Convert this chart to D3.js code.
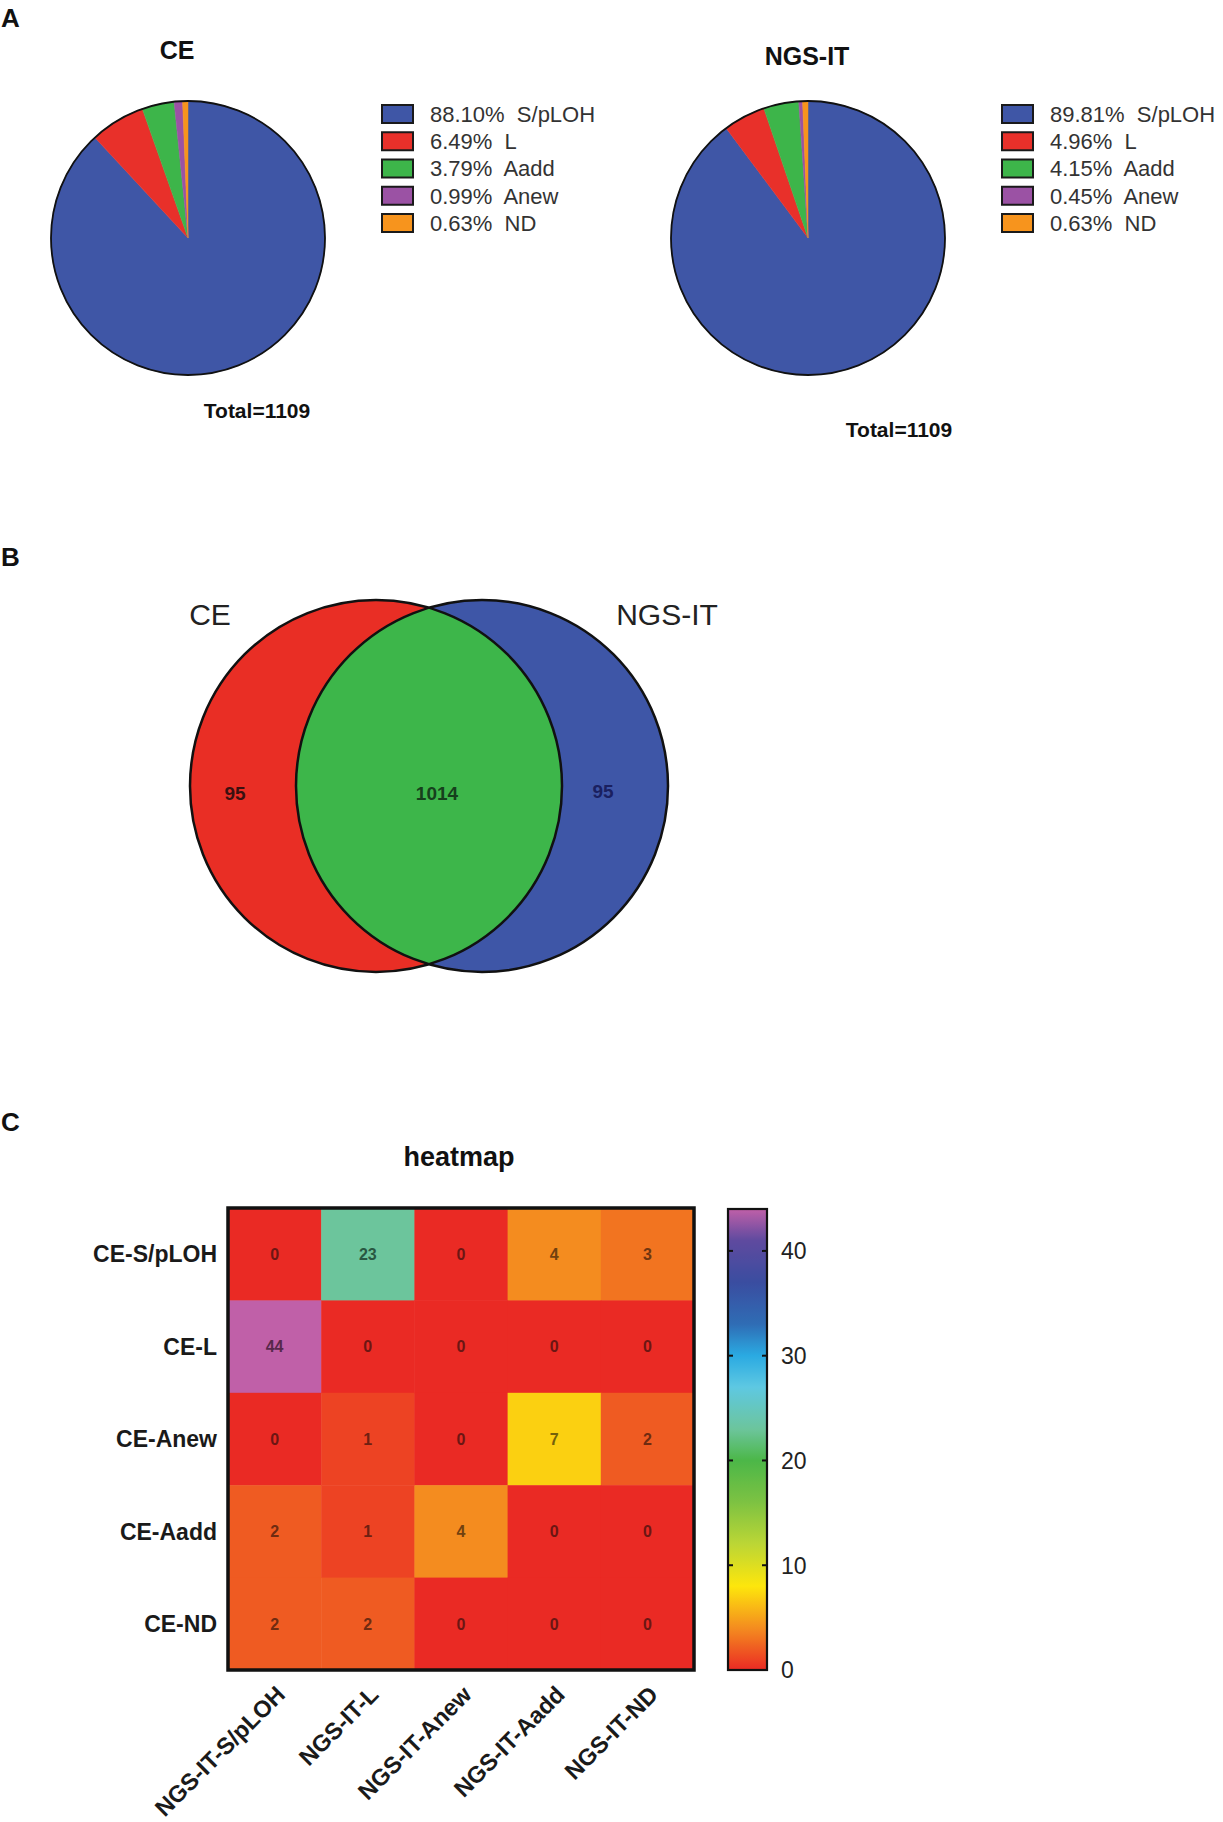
<!DOCTYPE html>
<html>
<head>
<meta charset="utf-8">
<script src="https://cdn.jsdelivr.net/npm/d3@7"></script>
<style>
  html, body { margin: 0; padding: 0; background: #fff; }
  svg { display: block; font-family: "Liberation Sans", Arial, Helvetica, sans-serif; }
</style>
</head>
<body>
<svg id="chart" width="1223" height="1822"></svg>
<script>
// ---------------- DATA ----------------
const pieCategories = ["S/pLOH", "L", "Aadd", "Anew", "ND"];
const cePercents = [88.10, 6.49, 3.79, 0.99, 0.63];
const ngsPercents = [89.81, 4.96, 4.15, 0.45, 0.63];
const pieTitles = ["CE", "NGS-IT"];
const pieTotals = [1109, 1109];

const vennSets = ["CE", "NGS-IT"];
const vennSetSizes = [1109, 1109];
const vennCounts = [95, 1014, 95]; // CE only, both, NGS-IT only

const heatRows = ["CE-S/pLOH", "CE-L", "CE-Anew", "CE-Aadd", "CE-ND"];
const heatCols = ["NGS-IT-S/pLOH", "NGS-IT-L", "NGS-IT-Anew", "NGS-IT-Aadd", "NGS-IT-ND"];
const heatValues = [
  [0, 23, 0, 4, 3],
  [44, 0, 0, 0, 0],
  [0, 1, 0, 7, 2],
  [2, 1, 4, 0, 0],
  [2, 2, 0, 0, 0]
];
const colorTicks = [0, 10, 20, 30, 40];
const colorMax = 44;

// ---------------- STYLE ----------------
const pieColors = ["#3f56a6", "#e8302a", "#3db54a", "#9b52a4", "#f7941d"];
const vennColors = { left: "#e92e25", right: "#3e56a7", both: "#3db64a" };
const rampStops = [0, 4, 8, 12, 16, 20, 23, 27, 30, 33, 37, 41, 44];
const rampColors = ["#ea2a24", "#f48c1f", "#fde60c", "#bcd635", "#7dc242", "#4cb748", "#6cc59c",
                    "#5ec8e2", "#2aaae2", "#2f6db5", "#3a4da0", "#5f4a9f", "#c060a8"];

const svg = d3.select("#chart");

// Panel letters
[["A", 27], ["B", 566], ["C", 1131]].forEach(([t, y]) => {
  svg.append("text").attr("x", 1).attr("y", y).attr("font-size", 26)
    .attr("font-weight", "bold").attr("fill", "#111").text(t);
});

// ---------------- PANEL A: pies ----------------
const pieGen = d3.pie().sort(null).value(d => d);
const R = 137;
const arcGen = d3.arc().innerRadius(0).outerRadius(R);

const pieLayouts = [
  { data: cePercents, cx: 188, cy: 238, titleX: 177, titleY: 59, legX: 382, totX: 257, totY: 418 },
  { data: ngsPercents, cx: 808, cy: 238, titleX: 807, titleY: 65, legX: 1002, totX: 899, totY: 437 }
];

pieLayouts.forEach((p, pi) => {
  const g = svg.append("g").attr("transform", `translate(${p.cx},${p.cy})`);
  g.selectAll("path.slice").data(pieGen(p.data)).join("path")
    .attr("class", "slice")
    .attr("d", arcGen)
    .attr("fill", (d, i) => pieColors[i])
    .attr("stroke", (d, i) => pieColors[i])
    .attr("stroke-width", 0.5);
  g.append("circle").attr("r", R).attr("fill", "none")
    .attr("stroke", "#111").attr("stroke-width", 1.8);

  svg.append("text").attr("x", p.titleX).attr("y", p.titleY)
    .attr("text-anchor", "middle").attr("font-size", 25).attr("font-weight", "bold")
    .attr("fill", "#111").text(pieTitles[pi]);

  const rowY = d3.scalePoint().domain(pieCategories).range([114, 223]);
  const leg = svg.append("g");
  pieCategories.forEach((c, i) => {
    const y = rowY(c);
    leg.append("rect").attr("x", p.legX).attr("y", y - 9).attr("width", 31).attr("height", 18)
      .attr("fill", pieColors[i]).attr("stroke", "#1a1a1a").attr("stroke-width", 2);
    leg.append("text").attr("x", p.legX + 48).attr("y", y).attr("dy", "0.36em")
      .attr("font-size", 22).attr("fill", "#333")
      .style("white-space", "pre")
      .text(`${p.data[i].toFixed(2)}%  ${c}`);
  });

  svg.append("text").attr("x", p.totX).attr("y", p.totY)
    .attr("text-anchor", "middle").attr("font-size", 21).attr("font-weight", "bold")
    .attr("fill", "#111").text(`Total=${pieTotals[pi]}`);
});

// ---------------- PANEL B: Venn ----------------
const rScale = d3.scaleSqrt().domain([0, 1109]).range([0, 186]);
const vx = d3.scaleLinear().domain([0, 1]).range([376, 482]);
const vcy = 786;
const circles = vennSets.map((s, i) => ({ name: s, cx: vx(i), cy: vcy, r: rScale(vennSetSizes[i]) }));

const defs = svg.append("defs");
defs.append("clipPath").attr("id", "clipLeft")
  .append("circle").attr("cx", circles[0].cx).attr("cy", vcy).attr("r", circles[0].r);

const vg = svg.append("g");
vg.append("circle").attr("cx", circles[0].cx).attr("cy", vcy).attr("r", circles[0].r)
  .attr("fill", vennColors.left);
vg.append("circle").attr("cx", circles[1].cx).attr("cy", vcy).attr("r", circles[1].r)
  .attr("fill", vennColors.right);
vg.append("circle").attr("cx", circles[1].cx).attr("cy", vcy).attr("r", circles[1].r)
  .attr("fill", vennColors.both).attr("clip-path", "url(#clipLeft)");
circles.forEach(c => {
  vg.append("circle").attr("cx", c.cx).attr("cy", c.cy).attr("r", c.r)
    .attr("fill", "none").attr("stroke", "#111").attr("stroke-width", 2.5);
});

svg.append("text").attr("x", 210).attr("y", 625).attr("text-anchor", "middle")
  .attr("font-size", 30).attr("fill", "#222").text(vennSets[0]);
svg.append("text").attr("x", 667).attr("y", 625).attr("text-anchor", "middle")
  .attr("font-size", 30).attr("fill", "#222").text(vennSets[1]);

const vennNumPos = [[235, 793, "#3a1010"], [437, 793, "#16401c"], [603, 791, "#1a2060"]];
vennCounts.forEach((v, i) => {
  svg.append("text").attr("x", vennNumPos[i][0]).attr("y", vennNumPos[i][1])
    .attr("dy", "0.36em").attr("text-anchor", "middle")
    .attr("font-size", 19).attr("font-weight", "bold")
    .attr("fill", vennNumPos[i][2]).text(v);
});

// ---------------- PANEL C: heatmap ----------------
const hx0 = 228, hx1 = 694, hy0 = 1208, hy1 = 1670;
const xBand = d3.scaleBand().domain(heatCols).range([hx0, hx1]).padding(0);
const yBand = d3.scaleBand().domain(heatRows).range([hy0, hy1]).padding(0);
const color = d3.scaleLinear().domain(rampStops).range(rampColors).interpolate(d3.interpolateRgb).clamp(true);

svg.append("text").attr("x", 459).attr("y", 1166).attr("text-anchor", "middle")
  .attr("font-size", 27).attr("font-weight", "bold").attr("fill", "#111").text("heatmap");

const cells = [];
heatRows.forEach((r, ri) => heatCols.forEach((c, ci) => cells.push({ r, c, v: heatValues[ri][ci] })));

const hg = svg.append("g");
hg.selectAll("rect.cell").data(cells).join("rect")
  .attr("class", "cell")
  .attr("x", d => xBand(d.c)).attr("y", d => yBand(d.r))
  .attr("width", xBand.bandwidth() + 0.5).attr("height", yBand.bandwidth() + 0.5)
  .attr("fill", d => color(d.v));

function textColor(v) {
  const h = d3.hsl(color(v));
  h.l = Math.min(h.l, 0.25);
  h.s = Math.min(1, h.s * 0.85);
  return h.formatHex();
}
hg.selectAll("text.val").data(cells).join("text")
  .attr("class", "val")
  .attr("x", d => xBand(d.c) + xBand.bandwidth() / 2)
  .attr("y", d => yBand(d.r) + yBand.bandwidth() / 2)
  .attr("dy", "0.36em").attr("text-anchor", "middle")
  .attr("font-size", 16).attr("font-weight", "bold").attr("fill", d => textColor(d.v))
  .text(d => d.v);

hg.append("rect").attr("x", hx0).attr("y", hy0).attr("width", hx1 - hx0).attr("height", hy1 - hy0)
  .attr("fill", "none").attr("stroke", "#111").attr("stroke-width", 3.5);

// row labels
svg.append("g").selectAll("text").data(heatRows).join("text")
  .attr("x", 217).attr("y", d => yBand(d) + yBand.bandwidth() / 2)
  .attr("dy", "0.36em").attr("text-anchor", "end")
  .attr("font-size", 23).attr("font-weight", "bold").attr("fill", "#1a1a1a")
  .text(d => d);

// column labels rotated
svg.append("g").selectAll("text").data(heatCols).join("text")
  .attr("transform", d => `translate(${xBand(d) + xBand.bandwidth() / 2 + 6},${hy1 + 20}) rotate(-45)`)
  .attr("dy", "0.36em").attr("text-anchor", "end")
  .attr("font-size", 23.5).attr("font-weight", "bold").attr("fill", "#1a1a1a")
  .text(d => d);

// colour bar
const cbx0 = 728, cbx1 = 767, cby0 = 1209, cby1 = 1670;
const cbScale = d3.scaleLinear().domain([0, colorMax]).range([cby1, cby0]);
const grad = defs.append("linearGradient").attr("id", "cbGrad")
  .attr("x1", 0).attr("y1", 1).attr("x2", 0).attr("y2", 0);
d3.range(0, colorMax + 0.001, 0.5).forEach(v => {
  grad.append("stop").attr("offset", v / colorMax).attr("stop-color", color(v));
});
svg.append("rect").attr("x", cbx0).attr("y", cby0).attr("width", cbx1 - cbx0).attr("height", cby1 - cby0)
  .attr("fill", "url(#cbGrad)").attr("stroke", "#111").attr("stroke-width", 2.2);

const tickG = svg.append("g");
colorTicks.forEach(t => {
  const y = cbScale(t);
  if (t > 0) {
    tickG.append("line").attr("x1", cbx0).attr("x2", cbx0 + 5).attr("y1", y).attr("y2", y)
      .attr("stroke", "#111").attr("stroke-width", 2);
    tickG.append("line").attr("x1", cbx1 - 5).attr("x2", cbx1).attr("y1", y).attr("y2", y)
      .attr("stroke", "#111").attr("stroke-width", 2);
  }
  tickG.append("text").attr("x", 781).attr("y", y).attr("dy", "0.36em")
    .attr("font-size", 23).attr("fill", "#222").text(t);
});
</script>
</body>
</html>
